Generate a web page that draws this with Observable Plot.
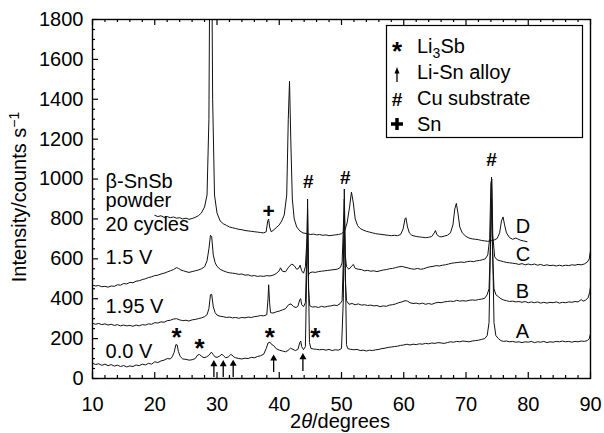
<!DOCTYPE html>
<html>
<head>
<meta charset="utf-8">
<script src="https://cdn.jsdelivr.net/npm/d3@7"></script>
<script src="https://cdn.jsdelivr.net/npm/@observablehq/plot@0.6"></script>
<style>
  html, body { margin: 0; padding: 0; background: #fff; }
  #chart { width: 604px; height: 433px; overflow: hidden; }
</style>
</head>
<body>
<div id="chart"></div>
<script>
// ---- Data ----
const traceA = [[10.0,77],[10.5,70],[11.0,74],[11.5,66],[12.0,72],[12.5,64],[13.0,70],[13.5,62],[14.0,67],[14.5,60],[15.0,65],[15.5,58],[16.0,63],[16.5,60],[17.0,68],[17.5,64],[18.0,72],[18.5,68],[19.0,76],[19.5,72],[20.0,84],[20.5,80],[21.0,88],[21.5,92],[22.0,100],[22.5,98],[22.8,108],[23.1,130],[23.4,170],[23.6,168],[23.8,135],[24.1,110],[24.5,98],[25.0,96],[25.5,92],[26.0,94],[26.5,100],[26.9,118],[27.2,120],[27.5,112],[27.9,104],[28.3,108],[28.7,116],[29.1,132],[29.4,120],[29.7,108],[30.0,106],[30.4,112],[30.8,122],[31.1,112],[31.4,104],[31.8,108],[32.2,120],[32.4,118],[32.7,108],[33.0,104],[33.5,100],[34.0,98],[34.5,102],[35.0,100],[35.5,106],[36.0,104],[36.5,110],[37.0,114],[37.5,122],[37.9,150],[38.2,178],[38.5,182],[38.8,170],[39.1,165],[39.5,150],[40.0,142],[40.5,138],[41.0,134],[41.4,140],[41.8,152],[42.2,146],[42.6,140],[43.0,146],[43.3,180],[43.45,188],[43.6,160],[43.9,145],[44.2,160],[44.45,600],[44.55,900],[44.7,500],[44.85,180],[45.1,150],[45.5,148],[46.0,146],[46.5,144],[47.0,146],[47.5,142],[48.0,146],[48.5,140],[49.0,144],[49.5,142],[50.0,150],[50.3,400],[50.45,950],[50.6,600],[50.8,170],[51.0,150],[51.5,146],[52.0,144],[52.5,146],[53.0,140],[53.5,142],[54.0,138],[54.5,142],[55.0,140],[55.5,144],[56.0,146],[56.5,150],[57.0,152],[57.5,156],[58.0,158],[58.5,160],[59.0,162],[59.5,166],[60.0,168],[60.5,172],[61.0,168],[61.5,172],[62.0,170],[62.5,174],[63.0,172],[63.5,176],[64.0,174],[64.5,178],[65.0,176],[65.5,180],[66.0,178],[66.5,176],[67.0,180],[67.5,184],[68.0,182],[68.5,186],[69.0,184],[69.5,188],[70.0,186],[70.5,184],[71.0,188],[71.5,190],[72.0,192],[72.5,196],[73.0,200],[73.4,215],[73.7,280],[73.95,700],[74.1,1010],[74.25,700],[74.5,280],[74.8,215],[75.2,200],[75.6,190],[76.0,186],[76.5,188],[77.0,184],[77.5,186],[78.0,182],[78.5,184],[79.0,180],[79.5,184],[80.0,182],[80.5,186],[81.0,180],[81.5,184],[82.0,182],[82.5,186],[83.0,180],[83.5,184],[84.0,182],[84.5,186],[85.0,184],[85.5,188],[86.0,184],[86.5,186],[87.0,182],[87.5,186],[88.0,184],[88.5,188],[89.0,186],[89.5,190],[89.8,200],[90.0,225]];

const traceB = [[10.0,277],[10.5,272],[11.0,276],[11.5,270],[12.0,274],[12.5,268],[13.0,272],[13.5,266],[14.0,270],[14.5,264],[15.0,268],[15.5,264],[16.0,266],[16.5,262],[17.0,268],[17.5,264],[18.0,270],[18.5,268],[19.0,274],[19.5,272],[20.0,280],[20.5,278],[21.0,284],[21.5,282],[22.0,290],[22.5,292],[23.0,298],[23.5,300],[24.0,294],[24.5,290],[25.0,292],[25.5,288],[26.0,294],[26.5,296],[27.0,300],[27.5,304],[28.0,310],[28.4,320],[28.7,350],[28.95,420],[29.15,422],[29.4,360],[29.7,330],[30.0,318],[30.5,312],[31.0,310],[31.5,306],[32.0,308],[32.5,304],[33.0,306],[33.5,302],[34.0,306],[34.5,304],[35.0,308],[35.5,306],[36.0,310],[36.5,312],[37.0,316],[37.5,314],[38.0,320],[38.2,400],[38.3,470],[38.45,380],[38.6,330],[39.0,328],[39.5,334],[40.0,338],[40.5,344],[41.0,350],[41.5,370],[41.9,374],[42.3,360],[42.7,356],[43.0,362],[43.3,396],[43.45,400],[43.6,370],[43.9,360],[44.2,380],[44.45,650],[44.55,720],[44.7,450],[44.9,365],[45.3,358],[45.8,360],[46.3,356],[46.8,362],[47.3,358],[47.8,362],[48.3,364],[48.8,368],[49.3,366],[49.8,376],[50.1,390],[50.3,600],[50.45,800],[50.6,500],[50.8,390],[51.2,372],[51.7,376],[52.2,370],[52.7,374],[53.2,368],[53.7,370],[54.2,366],[54.7,368],[55.2,364],[55.7,366],[56.2,360],[56.7,364],[57.2,362],[57.7,368],[58.2,370],[58.7,374],[59.2,380],[59.7,384],[60.2,390],[60.6,388],[61.0,380],[61.5,376],[62.0,378],[62.5,374],[63.0,378],[63.5,372],[64.0,376],[64.5,372],[65.0,378],[65.5,382],[66.0,380],[66.5,384],[67.0,386],[67.5,388],[68.0,386],[68.5,392],[69.0,388],[69.5,390],[70.0,388],[70.5,392],[71.0,394],[71.5,392],[72.0,396],[72.5,398],[73.0,402],[73.4,420],[73.7,450],[73.95,700],[74.1,900],[74.25,650],[74.5,450],[74.8,420],[75.2,410],[75.6,400],[76.0,394],[76.5,390],[77.0,386],[77.5,388],[78.0,384],[78.5,386],[79.0,382],[79.5,386],[80.0,380],[80.5,384],[81.0,380],[81.5,384],[82.0,378],[82.5,382],[83.0,378],[83.5,382],[84.0,380],[84.5,384],[85.0,378],[85.5,382],[86.0,380],[86.5,384],[87.0,382],[87.5,386],[88.0,384],[88.5,396],[88.8,388],[89.2,392],[89.6,405],[89.85,430],[90.0,460]];

const traceC = [[10.0,468],[10.5,464],[11.0,466],[11.5,460],[12.0,462],[12.5,458],[13.0,464],[13.5,462],[14.0,470],[14.5,468],[15.0,476],[15.5,474],[16.0,482],[16.5,480],[17.0,488],[17.5,490],[18.0,496],[18.5,500],[19.0,506],[19.5,510],[20.0,516],[20.5,518],[21.0,524],[21.5,528],[22.0,534],[22.5,540],[23.0,546],[23.5,556],[23.8,552],[24.2,544],[24.6,540],[25.0,536],[25.5,532],[26.0,536],[26.5,540],[27.0,544],[27.5,550],[28.0,560],[28.4,590],[28.7,650],[28.95,718],[29.15,710],[29.4,620],[29.7,580],[30.0,562],[30.5,548],[31.0,540],[31.5,534],[32.0,530],[32.5,528],[33.0,526],[33.5,522],[34.0,524],[34.5,518],[35.0,520],[35.5,514],[36.0,516],[36.5,512],[37.0,514],[37.5,512],[38.0,516],[38.5,514],[39.0,518],[39.5,526],[40.0,540],[40.2,555],[40.5,538],[41.0,535],[41.5,558],[42.0,574],[42.4,566],[42.8,548],[43.1,552],[43.35,568],[43.6,540],[43.9,528],[44.2,560],[44.45,700],[44.55,850],[44.7,520],[44.9,530],[45.3,534],[45.8,532],[46.3,536],[46.8,538],[47.3,540],[47.8,542],[48.3,544],[48.8,546],[49.3,548],[49.8,556],[50.1,580],[50.3,760],[50.45,900],[50.6,620],[50.8,560],[51.2,548],[51.7,566],[51.9,572],[52.2,552],[52.7,548],[53.2,546],[53.7,540],[54.2,542],[54.7,538],[55.2,540],[55.7,536],[56.2,540],[56.7,544],[57.2,546],[57.7,550],[58.2,552],[58.7,556],[59.2,560],[59.7,562],[60.2,558],[60.7,554],[61.2,550],[61.7,548],[62.2,552],[62.7,548],[63.2,550],[63.7,556],[64.2,560],[64.7,562],[65.2,566],[65.7,564],[66.2,568],[66.7,570],[67.2,574],[67.7,578],[68.2,580],[68.7,582],[69.2,584],[69.7,582],[70.2,586],[70.7,588],[71.2,586],[71.7,590],[72.2,592],[72.7,596],[73.1,600],[73.5,620],[73.8,700],[74.0,980],[74.15,1000],[74.3,720],[74.6,610],[75.0,595],[75.5,590],[76.0,586],[76.5,582],[77.0,580],[77.5,578],[78.0,576],[78.5,572],[79.0,576],[79.5,570],[80.0,574],[80.5,570],[81.0,574],[81.5,568],[82.0,572],[82.5,566],[83.0,570],[83.5,566],[84.0,568],[84.5,564],[85.0,568],[85.5,564],[86.0,568],[86.5,566],[87.0,570],[87.5,568],[88.0,572],[88.5,570],[89.0,574],[89.5,584],[89.8,600],[90.0,640]];

const traceD = [[20.0,818],[20.5,812],[21.0,816],[21.5,808],[22.0,812],[22.5,806],[23.0,810],[23.5,804],[24.0,806],[24.5,800],[25.0,804],[25.5,798],[26.0,802],[26.5,808],[27.0,816],[27.5,830],[28.0,860],[28.4,920],[28.7,1300],[28.9,2400],[29.1,2400],[29.3,1400],[29.6,920],[30.0,830],[30.5,790],[31.0,776],[31.5,768],[32.0,760],[32.5,756],[33.0,752],[33.5,748],[34.0,746],[34.5,742],[35.0,740],[35.5,738],[36.0,736],[36.5,734],[37.0,732],[37.5,730],[37.9,736],[38.15,790],[38.3,800],[38.45,760],[38.7,736],[39.0,742],[39.5,756],[40.0,770],[40.4,790],[40.8,820],[41.2,920],[41.45,1300],[41.65,1490],[41.85,1200],[42.1,900],[42.4,800],[42.8,760],[43.3,740],[43.8,730],[44.5,726],[45.0,722],[45.5,724],[46.0,720],[46.5,722],[47.0,718],[47.5,720],[48.0,716],[48.5,718],[49.0,720],[49.5,722],[50.0,726],[50.5,740],[50.9,780],[51.3,860],[51.6,935],[51.9,880],[52.2,800],[52.6,766],[53.0,752],[53.5,744],[54.0,738],[54.5,734],[55.0,730],[55.5,726],[56.0,724],[56.5,722],[57.0,720],[57.5,718],[58.0,716],[58.5,718],[59.0,716],[59.5,722],[59.9,750],[60.2,800],[60.35,806],[60.6,760],[60.9,730],[61.3,718],[62.0,712],[62.5,710],[63.0,708],[63.5,706],[64.0,708],[64.5,712],[64.9,730],[65.1,742],[65.3,722],[65.7,712],[66.0,710],[66.5,714],[67.0,718],[67.5,730],[67.9,770],[68.2,850],[68.45,878],[68.7,830],[69.0,760],[69.4,730],[70.0,712],[70.5,704],[71.0,700],[71.5,698],[72.0,696],[72.5,692],[73.0,690],[73.5,688],[74.0,690],[74.5,694],[75.0,702],[75.4,730],[75.7,790],[75.95,810],[76.2,770],[76.5,730],[77.0,706],[77.5,698],[78.0,704],[78.3,700],[78.7,694],[79.2,690],[79.8,686]];

// Annotations
const li3sbMarks = [[23.5,162],[27.2,108],[38.5,162],[45.8,162]];
const liSnArrows = [[29.5,8,80],[31.0,8,80],[32.6,8,82],[39.1,33,108],[43.8,38,115]];
const cuMarks = [[44.65,955],[50.6,975],[74.1,1065]];
const snMarks = [[38.3,840]];
const traceLetters = [["D",78,730],["C",78,590],["B",78,405],["A",78,205]];
const sideLabels = [["β-SnSb",12.1,957],["powder",12.1,860],["20 cycles",12.1,740],["1.5 V",12.1,575],["1.95 V",12.1,330],["0.0 V",12.1,105]];

// Axis ticks
const xMajor = [10,20,30,40,50,60,70,80,90];
const xMinor = d3.range(12, 90, 2).filter(v => v % 10 !== 0);
const yMajor = [0,200,400,600,800,1000,1200,1400,1600,1800];
const yMinor = d3.range(50, 1800, 50).filter(v => v % 200 !== 0);

const legendLabels = ["Li3Sb","Li-Sn alloy","Cu substrate","Sn"];

// ---- Build ----
const W = 604, H = 433, mL = 92, mR = 14, mT = 19, mB = 55;
const fH = H - mT - mB, fW = W - mL - mR;
const font = "'Liberation Sans', Arial, Helvetica, sans-serif";

const rows = [
  ...traceA.map(([x,y]) => ({x, y, s:"A"})),
  ...traceB.map(([x,y]) => ({x, y, s:"B"})),
  ...traceC.map(([x,y]) => ({x, y, s:"C"})),
  ...traceD.map(([x,y]) => ({x, y, s:"D"}))
];

const chart = Plot.plot({
  width: W, height: H,
  marginLeft: mL, marginRight: mR, marginTop: mT, marginBottom: mB,
  x: {domain: [10, 90]},
  y: {domain: [0, 1800]},
  style: {fontFamily: font, fontSize: "20px", color: "#000", background: "#fff"},
  marks: [
    Plot.line(rows, {x: "x", y: "y", z: "s", stroke: "#111", strokeWidth: 1, clip: true}),
    // ticks inward
    Plot.tickX(xMajor, {insetTop: fH - 6, stroke: "#000", strokeWidth: 1.2}),
    Plot.tickX(xMajor, {insetBottom: fH - 6, stroke: "#000", strokeWidth: 1.2}),
    Plot.tickX(xMinor, {insetTop: fH - 3, stroke: "#000", strokeWidth: 1.2}),
    Plot.tickX(xMinor, {insetBottom: fH - 3, stroke: "#000", strokeWidth: 1.2}),
    Plot.tickY(yMajor, {insetRight: fW - 6, stroke: "#000", strokeWidth: 1.2}),
    Plot.tickY(yMinor, {insetRight: fW - 3, stroke: "#000", strokeWidth: 1.2}),
    Plot.frame({stroke: "#000", strokeWidth: 1.4}),
    Plot.axisX(xMajor, {tickSize: 0, tickPadding: 18, label: null, fontSize: 20, tickFormat: d => String(d)}),
    Plot.axisY(yMajor, {tickSize: 0, tickPadding: 9, label: null, fontSize: 20, tickFormat: d => String(d)}),
    // annotations
    Plot.text(li3sbMarks, {x: d => d[0], y: d => d[1], text: () => "*", lineAnchor: "bottom", fontWeight: "bold", fontSize: 26}),
    Plot.link(liSnArrows, {x1: d => d[0], x2: d => d[0], y1: d => d[1], y2: d => d[2] - 12, stroke: "#000", strokeWidth: 1.3}),
    Plot.dot(liSnArrows, {x: d => d[0], y: d => d[2] - 8, symbol: "triangle", r: 2.6, fill: "#000", stroke: "none"}),
    Plot.text(cuMarks, {x: d => d[0], y: d => d[1], text: () => "#", lineAnchor: "bottom", fontWeight: "bold", fontSize: 19}),
    Plot.text(snMarks, {x: d => d[0], y: d => d[1], text: () => "+", lineAnchor: "middle", fontWeight: "bold", fontSize: 21}),
    Plot.text(traceLetters, {x: d => d[1], y: d => d[2], text: d => d[0], textAnchor: "start", lineAnchor: "bottom", fontSize: 20}),
    Plot.text(sideLabels, {x: d => d[1], y: d => d[2], text: d => d[0], textAnchor: "start", lineAnchor: "bottom", fontSize: 20})
  ]
});

const svg = d3.select(chart);
// Y label
const yl = svg.append("text")
  .attr("transform", "translate(26,197) rotate(-90)")
  .attr("text-anchor", "middle")
  .attr("font-family", font).attr("font-size", 20).attr("fill", "#000");
yl.append("tspan").text("Intensity/counts s");
yl.append("tspan").attr("dy", -7).attr("font-size", 14).text("−1");
// X label
const xl = svg.append("text")
  .attr("x", 340).attr("y", 428)
  .attr("text-anchor", "middle")
  .attr("font-family", font).attr("font-size", 20).attr("fill", "#000");
xl.append("tspan").text("2");
xl.append("tspan").attr("font-style", "italic").text("θ");
xl.append("tspan").text("/degrees");

// Legend
const lg = svg.append("g").attr("font-family", font).attr("font-size", 20).attr("fill", "#000").attr("text-anchor", "start");
lg.append("rect").attr("x", 386.5).attr("y", 25.5).attr("width", 196).attr("height", 112)
  .attr("fill", "#fff").attr("stroke", "#000").attr("stroke-width", 1.2);
const baselines = [53, 79, 105, 131];
legendLabels.forEach((lab, i) => {
  const t = lg.append("text").attr("x", 417).attr("y", baselines[i]).attr("text-anchor", "start");
  if (lab === "Li3Sb") {
    t.append("tspan").text("Li");
    t.append("tspan").attr("dy", 5).attr("font-size", 14).text("3");
    t.append("tspan").attr("dy", -5).text("Sb");
  } else {
    t.text(lab);
  }
});
// symbols
lg.append("text").attr("x", 397).attr("y", 60).attr("text-anchor", "middle").attr("font-weight", "bold").attr("font-size", 26).text("*");
lg.append("line").attr("x1", 397).attr("x2", 397).attr("y1", 82).attr("y2", 72).attr("stroke", "#000").attr("stroke-width", 1.3);
lg.append("path").attr("d", "M397,67 L394.5,73.5 L399.5,73.5 Z").attr("fill", "#000");
lg.append("text").attr("x", 397).attr("y", 106).attr("text-anchor", "middle").attr("font-weight", "bold").attr("font-size", 19).text("#");
lg.append("path").attr("d", "M391,124 H403 M397,118 V130").attr("stroke", "#000").attr("stroke-width", 3.5);

document.getElementById("chart").appendChild(chart);
</script>
</body>
</html>
